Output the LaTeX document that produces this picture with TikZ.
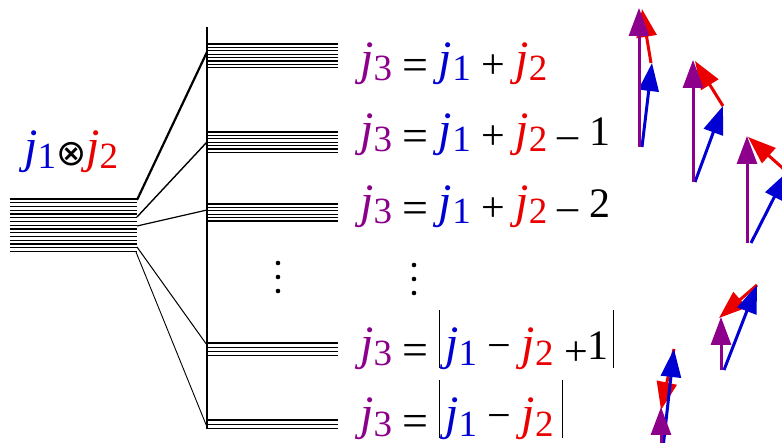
\documentclass[tikz,border=0pt]{standalone}
\usepackage{fontspec}
\setmainfont{Liberation Serif}
\newfontfamily\symbolfont{DejaVu Sans}
\usetikzlibrary{arrows.meta}
\definecolor{jpurple}{RGB}{140,0,140}
\definecolor{jblue}{RGB}{0,0,210}
\definecolor{jred}{RGB}{235,0,0}
\newcommand{\jsym}[2]{{\color{#1}{\fontsize{48}{48}\selectfont\textit{j}}\raisebox{-6pt}{\fontsize{37}{37}\selectfont #2}}}
\newcommand{\jeq}{\raisebox{-6pt}{\fontsize{46}{46}\selectfont=}}
\newcommand{\jplus}{\raisebox{-4pt}{+}}
\newcommand{\jdash}{\raisebox{-3pt}{–}}
\newcommand{\jbar}{\rule[-8pt]{1.2pt}{58pt}}
\newcommand{\levels}[3]{%
  \foreach \k in {1,...,#2}{\draw[level] (207,{#1+(\k-1)*#3})--(338,{#1+(\k-1)*#3});}%
}
\tikzset{
  level/.style={line width=1.3pt},
  feed/.style={line width=#1},
  jlabel/.style={anchor=base west,inner sep=0pt,font=\fontsize{42}{42}\selectfont},
  spin/.style={line width=3pt,-{Triangle[width=20pt,length=28pt]}}
}

\begin{document}
\begin{tikzpicture}[x=1pt,y=-1pt]
  \useasboundingbox (0,0) rectangle (782,443);
  % uncoupled multiplet
  \foreach \k in {0,...,14}{\draw[level] (10,199+\k*3.75)--(137,199+\k*3.75);}
  \node[jlabel] (prod) at (24,163) {\jsym{jblue}{1}\raisebox{-3pt}{\symbolfont\fontsize{36}{36}\selectfont ⊗}\jsym{jred}{2}};
  % coupled levels
  \coordinate (axtop) at (207,27);
  \coordinate (axbot) at (207,429);
  \draw[line width=2.5pt] (axtop)--(axbot);
  \levels{44}{8}{3.4}
  \levels{132}{7}{3.4}
  \levels{204}{6}{3.4}
  \levels{343}{4}{4.2}
  \levels{420}{3}{4.3}
  \coordinate (src1) at (137,200); \coordinate (lev1) at (207,52);
  \coordinate (src2) at (137,217); \coordinate (lev2) at (207,142);
  \coordinate (src3) at (137,226); \coordinate (lev3) at (207,210);
  \coordinate (src4) at (137,247); \coordinate (lev4) at (207,345);
  \coordinate (src5) at (136,252); \coordinate (lev5) at (207,427);
  \draw[feed=2.2pt] (src1)--(lev1);
  \draw[feed=1.4pt] (src2)--(lev2);
  \draw[feed=1.2pt] (src3)--(lev3);
  \draw[feed=1pt] (src4)--(lev4);
  \draw[feed=0.9pt] (src5)--(lev5);
  % labels
  \node[jlabel] (l1) at (360,75) {\jsym{jpurple}{3} \jeq{} \jsym{jblue}{1} \jplus{} \jsym{jred}{2}};
  \node[jlabel] (l2) at (360,146) {\jsym{jpurple}{3} \jeq{} \jsym{jblue}{1} \jplus{} \jsym{jred}{2} \jdash{} 1};
  \node[jlabel] (l3) at (360,218) {\jsym{jpurple}{3} \jeq{} \jsym{jblue}{1} \jplus{} \jsym{jred}{2} \jdash{} 2};
  \node[jlabel] (l4) at (360,360) {\jsym{jpurple}{3} \jeq{} \jbar\hspace{5pt}\jsym{jblue}{1} − \jsym{jred}{2} \raisebox{-6pt}{+}1\hspace{4pt}\jbar};
  \node[jlabel] (l5) at (360,430) {\jsym{jpurple}{3} \jeq{} \jbar\hspace{5pt}\jsym{jblue}{1} − \jsym{jred}{2}\hspace{8pt}\jbar};
  \foreach \y in {263,277,291}{\fill (278,\y) circle (2.3pt); \fill (414,\y+2) circle (2.3pt);}
  % vector pictures
  \draw[spin,jred] (651,63)--(642,9);
  \draw[spin,jblue] (642,147)--(652,63);
  \draw[spin,jpurple] (639,147)--(639,8);
  \draw[spin,jred] (723,106)--(695,61);
  \draw[spin,jblue] (695,182)--(723,106);
  \draw[spin,jpurple] (693,182)--(693,60);
  \draw[spin,jred] (787,172)--(748,137);
  \draw[spin,jblue] (751,243)--(787,172);
  \draw[spin,jpurple] (747,243)--(747,136);
  \draw[spin,jred] (757,285)--(719,318);
  \draw[spin,jblue] (724,370)--(757,285);
  \draw[spin,jpurple] (721,370)--(721,317);
  \draw[spin,jred] (674,349)--(661,410);
  \draw[spin,jblue] (663,448)--(674,349);
  \draw[spin,jpurple] (661,448)--(661,407);
\end{tikzpicture}
\end{document}
